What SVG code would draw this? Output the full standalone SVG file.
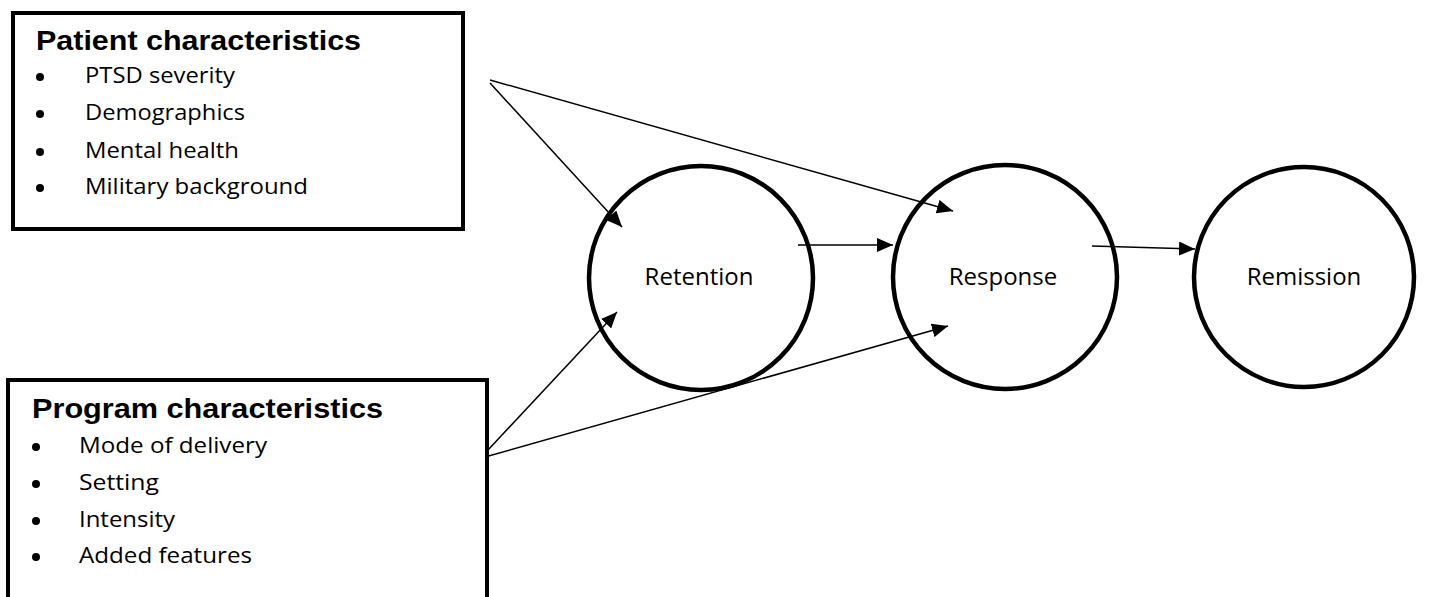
<svg xmlns="http://www.w3.org/2000/svg" width="1437" height="597" viewBox="0 0 1437 597">
<style>
.box{fill:#fff;stroke:#000;stroke-width:4}
.node{fill:#fff;stroke:#000;stroke-width:4.5}
.head{font-family:"Liberation Sans",Arial,sans-serif;font-weight:bold;font-size:28px;fill:#000}
.item{font-family:"Open Sans","Liberation Sans",sans-serif;font-size:21px;fill:#000}
.lbl{font-family:"Open Sans","Liberation Sans",sans-serif;font-size:24px;fill:#000;text-anchor:middle}
.edge{stroke:#000;stroke-width:1.5;fill:none;marker-end:url(#ah)}
</style>
<defs>
<marker id="ah" markerUnits="userSpaceOnUse" markerWidth="16" markerHeight="14" refX="16" refY="7" orient="auto">
<path d="M0,0 L16,7 L0,14 Z" fill="#000"/>
</marker>
</defs>
<rect width="1437" height="597" fill="#fff"/>
<g id="patient">
<rect class="box" x="13" y="13" width="450" height="216"/>
<text class="head" x="36" y="50" textLength="325" lengthAdjust="spacingAndGlyphs">Patient characteristics</text>
<circle cx="40" cy="77" r="4"/><text class="item" x="85" y="83" textLength="150" lengthAdjust="spacingAndGlyphs">PTSD severity</text>
<circle cx="40" cy="114" r="4"/><text class="item" x="85" y="120" textLength="160" lengthAdjust="spacingAndGlyphs">Demographics</text>
<circle cx="40" cy="152" r="4"/><text class="item" x="85" y="158" textLength="154" lengthAdjust="spacingAndGlyphs">Mental health</text>
<circle cx="40" cy="188" r="4"/><text class="item" x="85" y="194" textLength="223" lengthAdjust="spacingAndGlyphs">Military background</text>
</g>
<g id="program">
<rect class="box" x="8" y="380" width="479" height="240"/>
<text class="head" x="32" y="418" textLength="351" lengthAdjust="spacingAndGlyphs">Program characteristics</text>
<circle cx="36" cy="447" r="4"/><text class="item" x="79" y="453" textLength="188" lengthAdjust="spacingAndGlyphs">Mode of delivery</text>
<circle cx="36" cy="484" r="4"/><text class="item" x="79" y="490" textLength="80" lengthAdjust="spacingAndGlyphs">Setting</text>
<circle cx="36" cy="521" r="4"/><text class="item" x="79" y="527" textLength="96" lengthAdjust="spacingAndGlyphs">Intensity</text>
<circle cx="36" cy="557" r="4"/><text class="item" x="79" y="563" textLength="173" lengthAdjust="spacingAndGlyphs">Added features</text>
</g>
<g id="retention">
<circle class="node" cx="701" cy="278" r="112"/>
<text class="lbl" x="699" y="285">Retention</text>
</g>
<g id="response">
<circle class="node" cx="1005" cy="277" r="112"/>
<text class="lbl" x="1003" y="285">Response</text>
</g>
<g id="remission">
<circle class="node" cx="1304" cy="277" r="110"/>
<text class="lbl" x="1304" y="285">Remission</text>
</g>
<g id="connectors">
<line class="edge" x1="490" y1="83" x2="622" y2="227"/>
<line class="edge" x1="490" y1="80" x2="953" y2="211"/>
<line class="edge" x1="798" y1="245" x2="893" y2="245"/>
<line class="edge" x1="1092" y1="246" x2="1195" y2="249"/>
<line class="edge" x1="488" y1="450" x2="617" y2="312"/>
<line class="edge" x1="485" y1="457" x2="948" y2="326"/>
</g>
</svg>
